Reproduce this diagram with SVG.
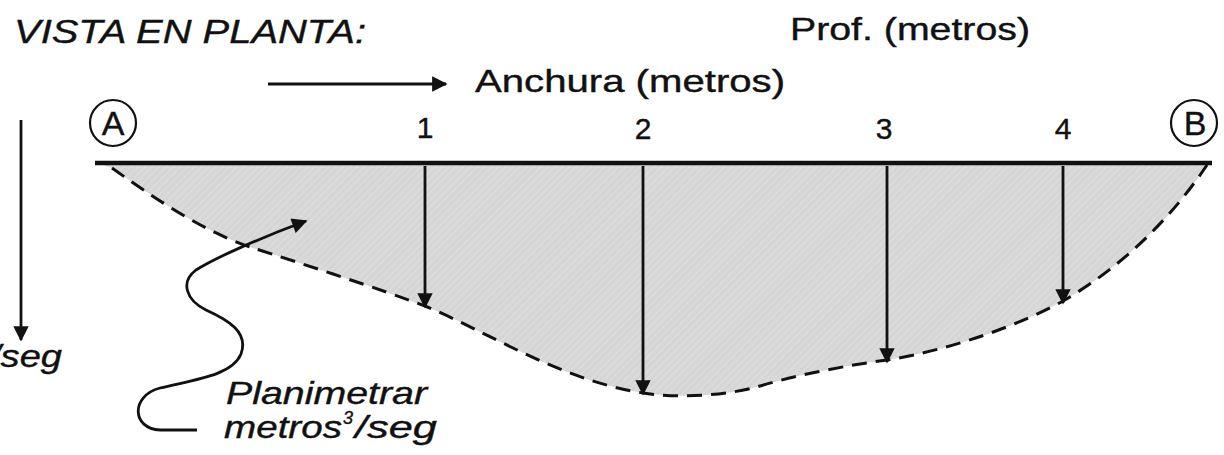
<svg xmlns="http://www.w3.org/2000/svg" width="1224" height="455" viewBox="0 0 1224 455">
<style>
  .t { font-family: "Liberation Sans", Arial, sans-serif; fill: #111; stroke: #111; stroke-width: 0.4; }
  .i { font-style: italic; }
  .ln { stroke: #111; fill: none; }
  .arr { stroke: #111; stroke-width: 2.8; fill: none; marker-end: url(#ah); }
</style>
<defs>
  <pattern id="hatch" width="5" height="5" patternUnits="userSpaceOnUse" patternTransform="rotate(45)">
    <rect width="5" height="5" fill="#d6d6d6"/>
    <line x1="0" y1="0" x2="0" y2="5" stroke="#e3e3e3" stroke-width="1.5"/>
  </pattern>
  <marker id="ah" viewBox="0 0 10 10" refX="9" refY="5" markerWidth="6" markerHeight="5.5" markerUnits="strokeWidth" orient="auto">
    <path d="M0,0 L10,5 L0,10 Z" fill="#111"/>
  </marker>
</defs>

<g id="section">
  <path d="M112,168 C150,195 200,230 250,247 C300,263 380,289 425,306 C490,333 560,380 643,393 C680,399 730,395 760,386 C800,374 850,365 887,360 C950,350 1020,325 1063,301 C1120,268 1170,220 1207,165 L1207,164 L100,164 Z" fill="url(#hatch)" stroke="none"/>
  <path d="M112,168 C150,195 200,230 250,247 C300,263 380,289 425,306 C490,333 560,380 643,393 C680,399 730,395 760,386 C800,374 850,365 887,360 C950,350 1020,325 1063,301 C1120,268 1170,220 1207,165" class="ln" stroke-width="3" stroke-dasharray="15 9"/>
  <line x1="95" y1="163" x2="1212" y2="163" class="ln" stroke-width="4.5"/>
</g>

<g id="title"><text class="t i" x="14" y="43" font-size="34" textLength="352" lengthAdjust="spacingAndGlyphs">VISTA EN PLANTA:</text></g>
<g id="prof"><text class="t" x="790" y="40" font-size="32" textLength="240" lengthAdjust="spacingAndGlyphs">Prof. (metros)</text></g>
<g id="anchura"><text class="t" x="475" y="92" font-size="32" textLength="310" lengthAdjust="spacingAndGlyphs">Anchura (metros)</text></g>

<g id="pointA">
  <circle cx="113" cy="123" r="23" fill="none" stroke="#111" stroke-width="2.2"/>
  <text class="t" x="113" y="135" font-size="34" text-anchor="middle">A</text>
</g>
<g id="pointB">
  <circle cx="1194" cy="123" r="23" fill="none" stroke="#111" stroke-width="2.2"/>
  <text class="t" x="1195" y="135" font-size="34" text-anchor="middle">B</text>
</g>

<g id="labels">
  <text class="t" x="425" y="138" font-size="30" text-anchor="middle">1</text>
  <text class="t" x="643" y="139" font-size="30" text-anchor="middle">2</text>
  <text class="t" x="884" y="139" font-size="30" text-anchor="middle">3</text>
  <text class="t" x="1063" y="139" font-size="30" text-anchor="middle">4</text>
</g>

<g id="leftnote">
  <text class="t i" x="-10" y="367" font-size="32" textLength="72" lengthAdjust="spacingAndGlyphs">/seg</text>
</g>

<g id="planimetrar">
  <text class="t i" x="226" y="404" font-size="32" textLength="201" lengthAdjust="spacingAndGlyphs">Planimetrar</text>
  <text class="t i" x="224" y="438" font-size="32" textLength="118" lengthAdjust="spacingAndGlyphs">metros</text>
  <text class="t i" x="343" y="424" font-size="18">3</text>
  <text class="t i" x="355" y="438" font-size="32" textLength="82" lengthAdjust="spacingAndGlyphs">/seg</text>
</g>

<g id="connectors">
  <line x1="268" y1="84" x2="446" y2="84" class="arr" stroke-width="2.2"/>
  <line x1="21" y1="120" x2="21" y2="340" class="arr" stroke-width="2.2"/>
  <line x1="425" y1="166" x2="425" y2="307" class="arr"/>
  <line x1="643" y1="166" x2="643" y2="394" class="arr"/>
  <line x1="887" y1="166" x2="887" y2="362" class="arr"/>
  <line x1="1063" y1="166" x2="1063" y2="303" class="arr"/>
  <path d="M197,430 L160,430 C132,429 130,396 160,388 C192,380 232,376 241,354 C249,332 228,320 206,310 C186,300 180,282 196,270 C215,258 260,238 306,221" class="arr" stroke-width="2.4"/>
</g>
</svg>
